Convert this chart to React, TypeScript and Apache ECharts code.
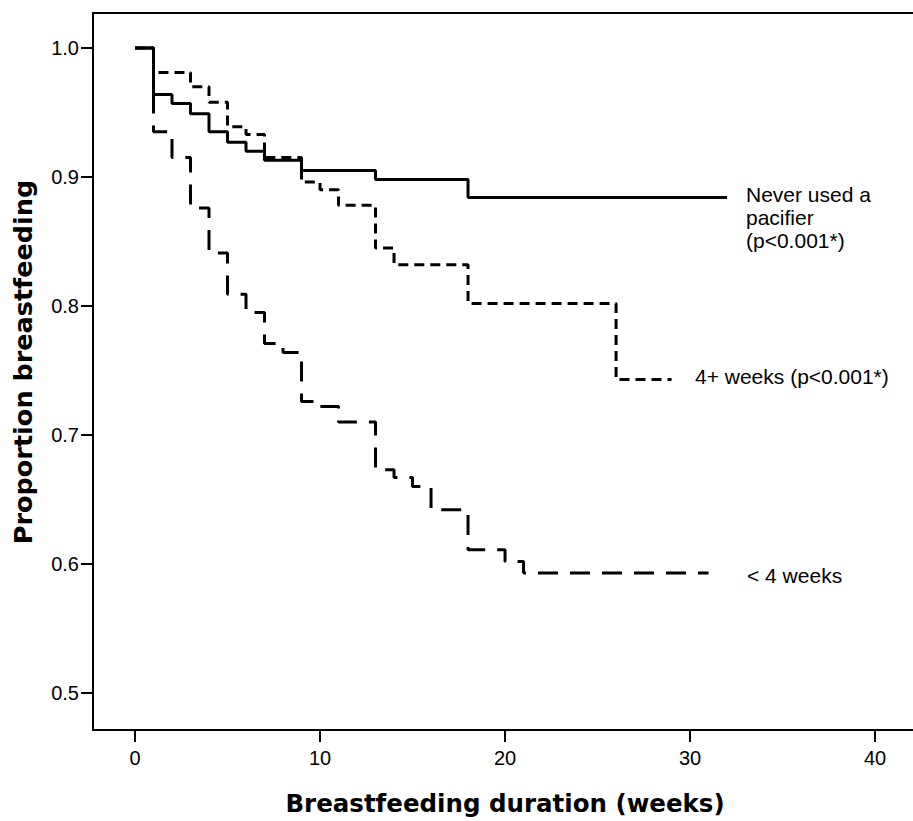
import React, { useEffect, useRef } from "react";
import * as echarts from "echarts";

// ---- data ----
const weekTicks = [0, 10, 20, 30, 40];
const proportionTicks = [0.5, 0.6, 0.7, 0.8, 0.9, 1.0];

// Never used a pacifier (solid)
const neverWeeks = [0, 1, 2, 3, 4, 5, 6, 7, 9, 13, 18, 32];
const neverProp = [1.0, 0.964, 0.957, 0.949, 0.935, 0.927, 0.92, 0.913, 0.905, 0.898, 0.884, 0.884];

// 4+ weeks (short dash)
const lateWeeks = [0, 1, 3, 4, 5, 6, 7, 9, 10, 11, 13, 14, 18, 26, 29];
const lateProp = [1.0, 0.981, 0.97, 0.958, 0.939, 0.933, 0.915, 0.896, 0.89, 0.878, 0.845, 0.832, 0.802, 0.743, 0.743];

// < 4 weeks (long dash)
const earlyWeeks = [0, 1, 2, 3, 4, 5, 6, 7, 8, 9, 10, 11, 13, 14, 15, 16, 18, 20, 21, 31];
const earlyProp = [1.0, 0.935, 0.915, 0.876, 0.841, 0.809, 0.795, 0.771, 0.764, 0.726, 0.722, 0.71, 0.673, 0.667, 0.66, 0.642, 0.611, 0.602, 0.593, 0.593];

const groupLabels = ["Never used a\npacifier\n(p<0.001*)", "4+ weeks (p<0.001*)", "< 4 weeks"];
const xTitle = "Breastfeeding duration (weeks)";
const yTitle = "Proportion breastfeeding";

const pairs = (xs: number[], ys: number[]) => xs.map((x, i) => [x, ys[i]]);

export default function App() {
  const ref = useRef<HTMLDivElement | null>(null);

  useEffect(() => {
    if (!ref.current) return;
    const chart = echarts.init(ref.current, undefined, { renderer: "svg" });

    const tickFont = { fontFamily: "Liberation Sans", fontSize: 20, color: "#000" };
    const titleFont = "DejaVu Sans";
    const xMin = -2.27;
    const xMax = 42.59;

    const mkSeries = (name: string, data: number[][], type: any) => ({
      name,
      type: "line",
      step: "end",
      xAxisIndex: 0,
      yAxisIndex: 0,
      data,
      showSymbol: false,
      symbol: "none",
      clip: false,
      lineStyle: { color: "#000", width: 3, type, cap: "butt" },
      emphasis: { disabled: true },
    });

    chart.setOption({
      animation: false,
      backgroundColor: "#fff",
      grid: {
        left: 93,
        top: 13,
        width: 830,
        height: 717,
        outerBoundsMode: "none",
        containLabel: false,
        show: false,
      },
      xAxis: [
        {
          type: "value",
          position: "bottom",
          min: xMin,
          max: xMax,
          splitLine: { show: false },
          axisLine: { show: true, onZero: false, lineStyle: { color: "#000", width: 2 } },
          axisTick: { show: true, length: 12, lineStyle: { color: "#000", width: 2 }, customValues: weekTicks },
          axisLabel: { ...tickFont, margin: 18, customValues: weekTicks, formatter: (v: number) => String(v) },
        },
        {
          type: "value",
          position: "top",
          min: xMin,
          max: xMax,
          splitLine: { show: false },
          axisLine: { show: true, onZero: false, lineStyle: { color: "#000", width: 2 } },
          axisTick: { show: false },
          axisLabel: { show: false },
        },
      ],
      yAxis: {
        type: "value",
        min: 0.4713,
        max: 1.0271,
        splitLine: { show: false },
        axisLine: { show: true, onZero: false, lineStyle: { color: "#000", width: 2 } },
        axisTick: { show: true, length: 12, lineStyle: { color: "#000", width: 2 }, customValues: proportionTicks },
        axisLabel: { ...tickFont, margin: 14, customValues: proportionTicks, formatter: (v: number) => v.toFixed(1) },
      },
      series: [
        mkSeries("< 4 weeks", pairs(earlyWeeks, earlyProp), [20, 12]),
        mkSeries("4+ weeks", pairs(lateWeeks, lateProp), [10, 6]),
        mkSeries("Never used a pacifier", pairs(neverWeeks, neverProp), "solid"),
      ],
      graphic: [
        {
          type: "text",
          x: 746,
          y: 183,
          style: {
            text: groupLabels[0],
            fontFamily: "Liberation Sans",
            fontSize: 21,
            lineHeight: 23,
            fill: "#000",
            align: "left",
            verticalAlign: "top",
          },
        },
        {
          type: "text",
          x: 695,
          y: 376,
          style: {
            text: groupLabels[1],
            fontFamily: "Liberation Sans",
            fontSize: 21,
            fill: "#000",
            align: "left",
            verticalAlign: "middle",
          },
        },
        {
          type: "text",
          x: 747,
          y: 575,
          style: {
            text: groupLabels[2],
            fontFamily: "Liberation Sans",
            fontSize: 21,
            fill: "#000",
            align: "left",
            verticalAlign: "middle",
          },
        },
        {
          type: "text",
          x: 505,
          y: 803,
          style: {
            text: xTitle,
            fontFamily: titleFont,
            fontWeight: "bold",
            fontSize: 24.5,
            fill: "#000",
            align: "center",
            verticalAlign: "middle",
          },
        },
        {
          type: "text",
          x: 23,
          y: 362,
          rotation: Math.PI / 2,
          style: {
            text: yTitle,
            fontFamily: titleFont,
            fontWeight: "bold",
            fontSize: 25.5,
            fill: "#000",
            align: "center",
            verticalAlign: "middle",
          },
        },
      ],
    });

    return () => chart.dispose();
  }, []);

  return (
    <div
      ref={ref}
      style={{ position: "fixed", left: 0, top: 0, width: 913, height: 821, background: "#fff" }}
    />
  );
}
